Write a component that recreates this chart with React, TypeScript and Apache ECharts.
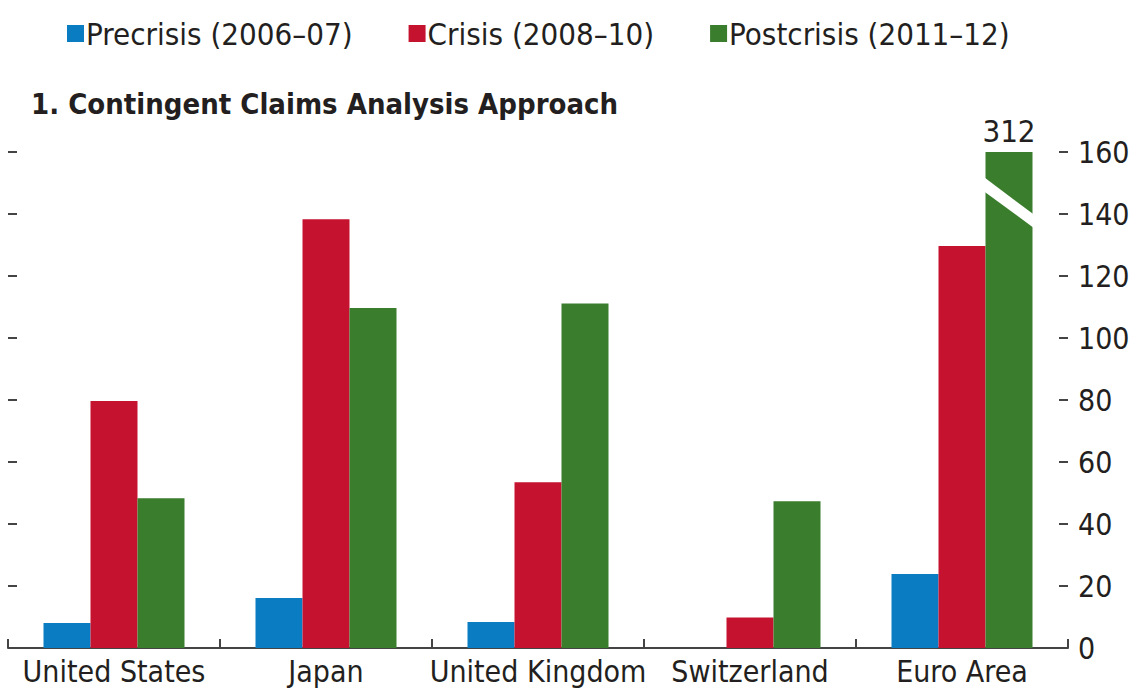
import React, { useEffect, useRef } from "react";
import * as echarts from "echarts";

const categories = ["United States", "Japan", "United Kingdom", "Switzerland", "Euro Area"];
const seriesNames = ["Precrisis (2006–07)", "Crisis (2008–10)", "Postcrisis (2011–12)"];
const precrisis = [8.1, 16.1, 8.4, null, 23.9];
const crisis = [79.7, 138.3, 53.5, 9.8, 129.7];
const postcrisis = [48.3, 109.7, 111.1, 47.3, 312];
const colors = ["#0a7cc1", "#c5132f", "#3a7d2d"];
const yMin = 0;
const yMax = 160;
const yInterval = 20;
// axis-break stripe on the truncated Euro Area bar (value coordinates)
const breakUpper = [151.8, 139.9];
const breakLower = [147.2, 135.6];

const FONT = "'Liberation Sans Narrow', 'DejaVu Sans Condensed', 'Arial Narrow', sans-serif";
const TEXT = "#231f20";
const BAR_W = 47;

export default function App() {
  const ref = useRef<HTMLDivElement>(null);
  useEffect(() => {
    if (!ref.current) return;
    const chart = echarts.init(ref.current, undefined, { renderer: "svg" });
    const cap = (arr: (number | null)[]) =>
      arr.map((v) =>
        v == null
          ? null
          : v > yMax
          ? {
              value: yMax,
              label: {
                show: true,
                position: "top",
                distance: 6,
                formatter: String(v),
                fontFamily: FONT,
                fontSize: 31,
                color: TEXT,
              },
            }
          : v
      );
    const yAxisBase = {
      type: "value",
      min: yMin,
      max: yMax,
      interval: yInterval,
      splitLine: { show: false },
      axisLine: { show: false },
      axisTick: { show: true, inside: true, length: 9, lineStyle: { color: "#444", width: 2 } },
    };
    chart.setOption({
      animation: false,
      textStyle: { fontFamily: FONT, color: TEXT },
      title: {
        text: "1. Contingent Claims Analysis Approach",
        left: 26,
        top: 84,
        textStyle: { fontFamily: FONT, fontSize: 29, fontWeight: "bold", color: TEXT },
      },
      legend: {
        top: 13,
        left: 62,
        itemWidth: 17,
        itemHeight: 17,
        itemGap: 56,
        icon: "rect",
        textStyle: { fontFamily: FONT, fontSize: 31, color: TEXT, padding: [0, 0, 0, -3] },
        data: seriesNames,
      },
      grid: { left: 8, right: 74, top: 152, bottom: 45, containLabel: false },
      xAxis: {
        type: "category",
        data: categories,
        axisLine: { show: true, lineStyle: { color: "#444", width: 2 } },
        axisTick: { show: true, inside: true, length: 9, lineStyle: { color: "#444", width: 2 } },
        axisLabel: { fontFamily: FONT, fontSize: 30, color: TEXT, margin: 8, interval: 0 },
      },
      yAxis: [
        { ...yAxisBase, position: "left", axisLabel: { show: false } },
        {
          ...yAxisBase,
          position: "right",
          axisLabel: { show: true, fontFamily: FONT, fontSize: 30, color: TEXT, margin: 10 },
        },
      ],
      series: [precrisis, crisis, postcrisis].map((d, i) => ({
        name: seriesNames[i],
        type: "bar",
        yAxisIndex: 1,
        data: cap(d),
        barWidth: BAR_W,
        barGap: "0%",
        itemStyle: { color: colors[i] },
      })),
    });
    const idx = categories.length - 1;
    const cx = chart.convertToPixel({ xAxisIndex: 0 }, categories[idx]) as number;
    const gx = cx + BAR_W;
    const x0 = gx - BAR_W / 2 - 1;
    const x1 = gx + BAR_W / 2 + 1;
    const py = (v: number) => chart.convertToPixel({ yAxisIndex: 1 }, v) as number;
    chart.setOption({
      graphic: [
        {
          type: "polygon",
          shape: {
            points: [
              [x0, py(breakUpper[0])],
              [x1, py(breakUpper[1])],
              [x1, py(breakLower[1])],
              [x0, py(breakLower[0])],
            ],
          },
          style: { fill: "#ffffff" },
          z: 100,
        },
      ],
    });
    return () => chart.dispose();
  }, []);
  return (
    <div
      ref={ref}
      style={{ position: "fixed", left: 0, top: 0, width: 1142, height: 693, background: "#fff" }}
    />
  );
}
